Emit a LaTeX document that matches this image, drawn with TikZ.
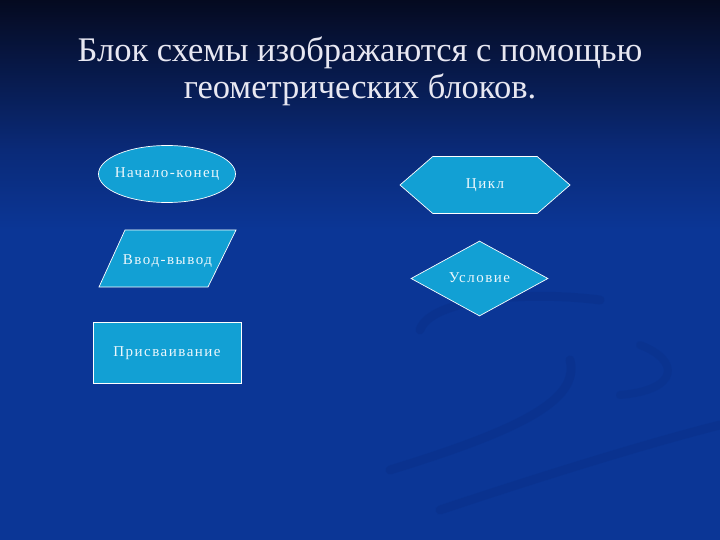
\documentclass[tikz,border=0pt]{standalone}
\usepackage{fontspec}
\usepackage{xcolor}
\usetikzlibrary{shapes.geometric,shapes.symbols}
\setmainfont{Liberation Serif}
\newfontfamily\blockfont[LetterSpace=10]{Liberation Serif}

\definecolor{bgtop}{HTML}{050A20}
\definecolor{bgmid}{HTML}{0A2A78}
\definecolor{bgblue}{HTML}{0B3696}
\definecolor{swirl}{HTML}{082C82}
\definecolor{blockfill}{HTML}{12A0D4}
\definecolor{titlecol}{HTML}{E8E8F2}

\tikzstyle{block} = [
    fill=blockfill,
    draw=white,
    line width=0.7pt,
    text=white!92!blockfill,
    font=\blockfont\fontsize{15}{17}\selectfont,
    text height=8pt,
    text depth=0pt,
    inner sep=0pt
    ]
\tikzstyle{label} = [
    text=white!92!blockfill,
    font=\blockfont\fontsize{15}{17}\selectfont,
    text height=8pt,
    text depth=0pt,
    inner sep=0pt
    ]
\tikzstyle{title} = [
    text=titlecol,
    font=\fontsize{34.5}{40}\selectfont,
    anchor=base
    ]

\begin{document}
\begin{tikzpicture}[x=1pt,y=-1pt]
        % background
        \fill[top color=bgtop, bottom color=bgmid] (0,0) rectangle (720,150);
        \fill[top color=bgmid, bottom color=bgblue] (0,150) rectangle (720,230);
        \fill[bgblue] (0,230) rectangle (720,540);
        \useasboundingbox (0,0) rectangle (720,540);

        % faint swirls
        \draw[swirl, line width=9pt, line cap=round, opacity=0.3]
            (420,330) .. controls (430,300) and (520,290) .. (600,300);
        \draw[swirl, line width=9pt, line cap=round, opacity=0.3]
            (390,470) .. controls (520,430) and (580,400) .. (570,360);
        \draw[swirl, line width=9pt, line cap=round, opacity=0.3]
            (440,510) .. controls (560,470) and (660,440) .. (720,425);
        \draw[swirl, line width=8pt, line cap=round, opacity=0.25]
            (620,395) .. controls (680,390) and (680,360) .. (640,345);

        % title
        \node (t1) [title] at (360,62) {Блок схемы изображаются с помощью};
        \node (t2) [title] at (360,99) {геометрических блоков.};

        % blocks
        \node (start) [block, ellipse, inner xsep=-4.5pt, minimum width=137pt, minimum height=57pt]
            at (167,174) {Начало-конец};
        \fill[blockfill, draw=white, line width=0.7pt]
            (99,287) -- (125,230) -- (236,230) -- (208,287) -- cycle;
        \node (io) [label] at (167.5,260) {Ввод-вывод};
        \node (assign) [block, rectangle, minimum width=148pt, minimum height=61pt]
            at (167,352.5) {Присваивание};
        \node (loop) [block, signal, signal to=west and east, signal pointer angle=82,
            minimum width=170pt, minimum height=57pt]
            at (485,185) {Цикл};
        \node (cond) [block, diamond, aspect=1.83, minimum width=137pt, minimum height=75pt]
            at (479.5,278.5) {Условие};

    \end{tikzpicture}
\end{document}
